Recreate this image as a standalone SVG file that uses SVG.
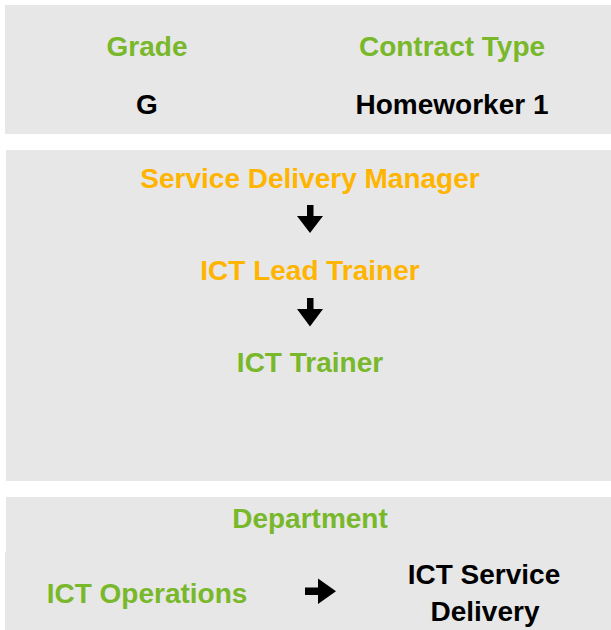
<svg xmlns="http://www.w3.org/2000/svg" width="611" height="630" viewBox="0 0 611 630">
  <style>
    .panel { fill: #e7e7e7; }
    .t { font-family: "Liberation Sans", Arial, sans-serif; font-weight: bold; font-size: 28px; text-anchor: middle; }
    .green { fill: #78b82a; }
    .orange { fill: #ffb400; }
    .black { fill: #000000; }
    .arrow { fill: #000000; }
  </style>
  <rect width="611" height="630" fill="#ffffff"/>

  <!-- Grade / contract panel -->
  <g id="panel-grade">
    <rect class="panel" x="5" y="5" width="606" height="129"/>
    <text class="t green" x="147" y="56">Grade</text>
    <text class="t green" x="452" y="56">Contract Type</text>
    <text class="t black" x="147" y="114">G</text>
    <text class="t black" x="452" y="114">Homeworker 1</text>
  </g>

  <!-- Reporting line panel -->
  <g id="panel-roles">
    <rect class="panel" x="6" y="150" width="605" height="331"/>
  </g>
  <g id="role-sdm">
    <text class="t orange" x="310" y="188">Service Delivery Manager</text>
  </g>
  <g id="role-lead">
    <text class="t orange" x="310" y="280">ICT Lead Trainer</text>
  </g>
  <g id="role-trainer">
    <text class="t green" x="310" y="372">ICT Trainer</text>
  </g>

  <!-- Department panel -->
  <g id="panel-department">
    <rect class="panel" x="6" y="497" width="605" height="56"/>
    <rect class="panel" x="5" y="552" width="606" height="78"/>
    <text class="t green" x="310" y="528">Department</text>
  </g>
  <g id="dept-from">
    <text class="t green" x="147" y="603">ICT Operations</text>
  </g>
  <g id="dept-to">
    <text class="t black" x="484" y="584">ICT Service</text>
    <text class="t black" x="485" y="621">Delivery</text>
  </g>

  <!-- Connectors -->
  <g id="connectors">
    <path class="arrow" d="M307,205 H313.5 V216 L323,216 L310,233 L297,216 L307,216 Z"/>
    <path class="arrow" d="M307,298 H313.5 V309 L323,309 L310,326.5 L297,309 L307,309 Z"/>
    <path class="arrow" d="M305,587.5 H318 V578.5 L336,591.3 L318,604 V595 H305 Z"/>
  </g>
</svg>
